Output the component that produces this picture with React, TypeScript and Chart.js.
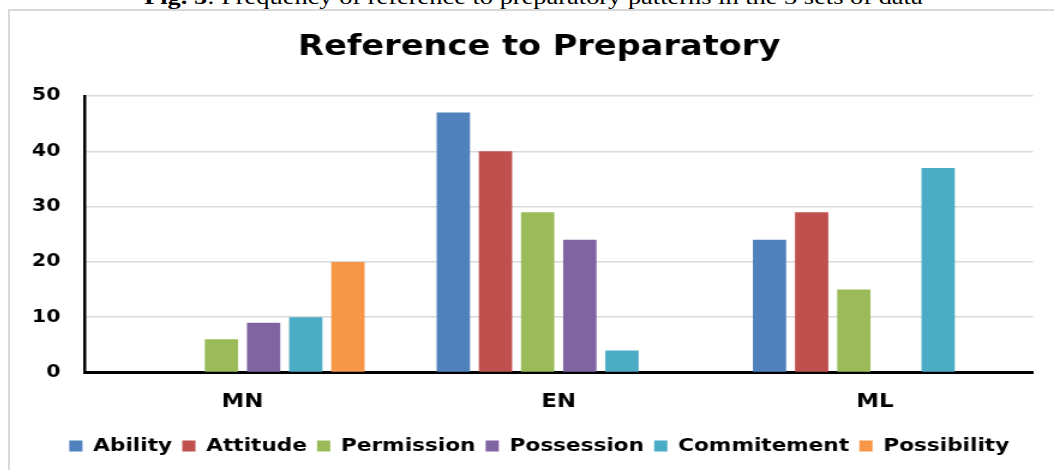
import React, { useEffect, useRef } from "react";
import { Chart, registerables } from "chart.js";

Chart.register(...registerables);

const categories = ["MN", "EN", "ML"];
const seriesNames = ["Ability", "Attitude", "Permission", "Possession", "Commitement", "Possibility"];
const ability = [0, 47, 24];
const attitude = [0, 40, 29];
const permission = [6, 29, 15];
const possession = [9, 24, 0];
const commitement = [10, 4, 37];
const possibility = [20, 0, 0];
const seriesValues = [ability, attitude, permission, possession, commitement, possibility];
const seriesColors = ["#4F81BD", "#C0504D", "#9BBB59", "#8064A2", "#4BACC6", "#F79646"];
const yMin = 0;
const yMax = 50;
const yStep = 10;
const chartTitle = "Reference to Preparatory";

const FONT = '"DejaVu Sans", Verdana, sans-serif';

export default function App() {
  const ref = useRef<HTMLCanvasElement | null>(null);

  useEffect(() => {
    if (!ref.current) return;
    const chart = new Chart(ref.current, {
      type: "bar",
      data: {
        labels: categories,
        datasets: seriesNames.map((name, i) => ({
          label: name,
          data: seriesValues[i],
          backgroundColor: seriesColors[i],
          borderWidth: 0,
          categoryPercentage: 0.8,
          barPercentage: 0.79,
        })),
      },
      options: {
        animation: false,
        responsive: true,
        maintainAspectRatio: false,
        layout: { padding: { left: 12, right: 0, top: 0, bottom: 5 } },
        plugins: {
          tooltip: { enabled: false },
          title: {
            display: true,
            text: chartTitle,
            color: "#000",
            font: { family: FONT, size: 28, weight: "bold", lineHeight: 1.2 },
            padding: { top: 20, bottom: 31.4 },
          },
          legend: {
            position: "bottom",
            labels: {
              color: "#000",
              font: { family: FONT, size: 18, weight: "bold" },
              boxWidth: 11,
              boxHeight: 11,
              padding: 8.5,
            },
          },
        },
        scales: {
          x: {
            grid: { display: false, drawTicks: false },
            border: { display: true, color: "#000", width: 3 },
            ticks: {
              color: "#000",
              padding: 18,
              font: { family: FONT, size: 19, weight: "bold" },
            },
            afterFit: (scale: any) => {
              scale.height = 56;
            },
          },
          y: {
            min: yMin,
            max: yMax,
            grid: { color: "#d9d9d9", lineWidth: 1.5, drawTicks: false },
            border: { display: true, color: "#000", width: 2.5 },
            ticks: {
              stepSize: yStep,
              color: "#000",
              padding: 20,
              font: { family: FONT, size: 17, weight: "bold" },
            },
            afterFit: (scale: any) => {
              scale.width = 50;
            },
          },
          yRightSpacer: {
            type: "linear",
            position: "right",
            display: true,
            grid: { display: false, drawTicks: false },
            border: { display: false },
            ticks: { display: false },
            afterFit: (scale: any) => {
              scale.width = 17.5;
            },
          },
        },
      },
    });
    return () => chart.destroy();
  }, []);

  return (
    <div
      style={{
        position: "absolute",
        left: 0,
        top: 0,
        width: 1054,
        height: 470,
        overflow: "hidden",
        background: "#fff",
      }}
    >
      <div
        style={{
          position: "absolute",
          left: 0,
          width: 1054,
          top: -14,
          textAlign: "center",
          fontFamily: '"Liberation Serif", "Times New Roman", serif',
          fontSize: 22,
          lineHeight: "22px",
          whiteSpace: "nowrap",
          color: "#000",
          transform: "translateX(8px) scaleX(1.2)",
          transformOrigin: "535px 0",
        }}
      >
        <b>Fig. 5</b>: Frequency of reference to preparatory patterns in the 3 sets of data
      </div>
      <div
        style={{
          position: "absolute",
          left: 8,
          top: 9,
          width: 1100,
          height: 500,
          borderLeft: "2px solid #d9d9d9",
          borderTop: "2px solid #d9d9d9",
        }}
      />
      <div
        style={{
          position: "absolute",
          left: 10,
          top: 11,
          width: 870,
          height: 459,
          transform: "scaleX(1.2)",
          transformOrigin: "0 0",
        }}
      >
        <canvas ref={ref} />
      </div>
    </div>
  );
}
